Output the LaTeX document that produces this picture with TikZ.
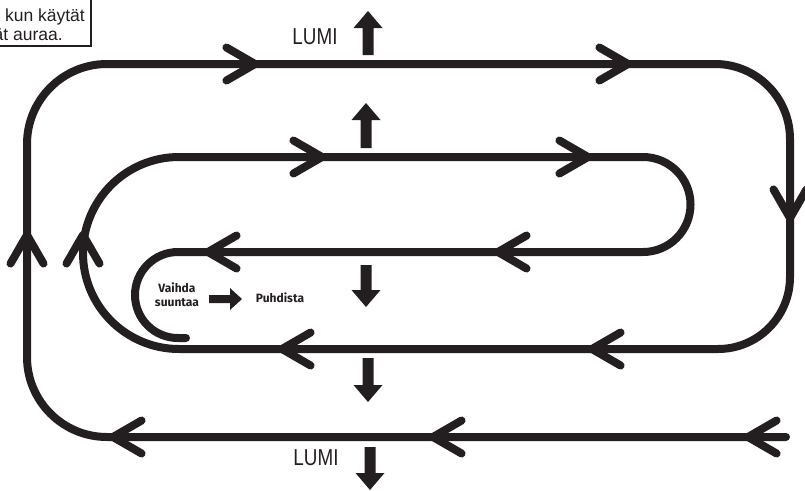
\documentclass[tikz,border=0pt]{standalone}
\usepackage{fontspec}
\setmainfont{Liberation Sans}
\newfontfamily\smallfont{Fira Sans}
\definecolor{ink}{HTML}{231F20}
\newcommand\chev[3]{\draw[chevron] (#1,#2) ++(#3+150:33) -- (#1,#2) -- ++(#3+210:33);}
\newcommand\uparr[3]{\fill[ink] (#1-5.5,#3) -- (#1-5.5,#2+17) -- (#1-14.5,#2+17) -- (#1,#2) -- (#1+14.5,#2+17) -- (#1+5.5,#2+17) -- (#1+5.5,#3) -- cycle;}
\newcommand\downarr[3]{\fill[ink] (#1-5.5,#2) -- (#1-5.5,#3-17) -- (#1-14.5,#3-17) -- (#1,#3) -- (#1+14.5,#3-17) -- (#1+5.5,#3-17) -- (#1+5.5,#2) -- cycle;}
\begin{document}
\begin{tikzpicture}[x=1pt,y=-1pt,
  track/.style={draw=ink,line width=8pt,line cap=round,line join=round},
  chevron/.style={track},
  lumi/.style={text=ink,font=\fontsize{23}{26}\selectfont,inner sep=0pt},
  small/.style={text=ink,font=\smallfont\bfseries\fontsize{12}{14}\selectfont,inner sep=0pt,align=center},
  note/.style={text=ink,font=\fontsize{17.5}{20}\selectfont,inner sep=0pt}]
\useasboundingbox (0,0) rectangle (805,490);
\clip (0,0) rectangle (805,490);
% note box
\draw[ink,line width=1.3pt] (-5,-5) rectangle (91,46);
\node[note,anchor=base east] (t1) at (85,21) {kun käytät};
\node[note,anchor=base east] (t2) at (63,40) {ät auraa.};
% spiral track
\draw[track] (786,437) -- (107,437)
  arc[start angle=90,end angle=180,radius=80] -- (27,144)
  arc[start angle=180,end angle=270,radius=80] -- (715,64)
  arc[start angle=270,end angle=360,radius=75] -- (790,277)
  arc[start angle=0,end angle=90,radius=72] -- (179,349)
  arc[start angle=90,end angle=270,radius=96] -- (643,157)
  arc[start angle=270,end angle=450,radius=47.5] -- (178,252)
  arc[start angle=270,end angle=90,radius=43] -- (186,338);
% chevrons
\chev{255}{64}{0}
\chev{628}{64}{0}
\chev{790}{218}{90}
\chev{282}{349}{180}
\chev{592}{349}{180}
\chev{83}{235}{270}
\chev{322}{157}{0}
\chev{588}{157}{0}
\chev{208}{252}{180}
\chev{498}{252}{180}
\chev{113}{437}{180}
\chev{433}{437}{180}
\chev{748}{437}{180}
\chev{27}{235}{270}
% block arrows
\uparr{368}{11}{55}
\uparr{366}{103}{148}
\downarr{366}{265}{307}
\downarr{368}{358}{402}
\downarr{370}{447}{490}
\fill[ink] (209,295) -- (230,295) -- (230,288) -- (242,299) -- (230,310) -- (230,303) -- (209,303) -- cycle;
% labels
\node[lumi] (lumitop) at (315,37) {\scalebox{0.82}[1]{LUMI}};
\node[lumi] (lumibot) at (316,458) {\scalebox{0.82}[1]{LUMI}};
\node[small] (vaihda) at (177,295) {Vaihda\\suuntaa};
\node[small] (puhdista) at (280,298) {Puhdista};
\end{tikzpicture}
\end{document}
